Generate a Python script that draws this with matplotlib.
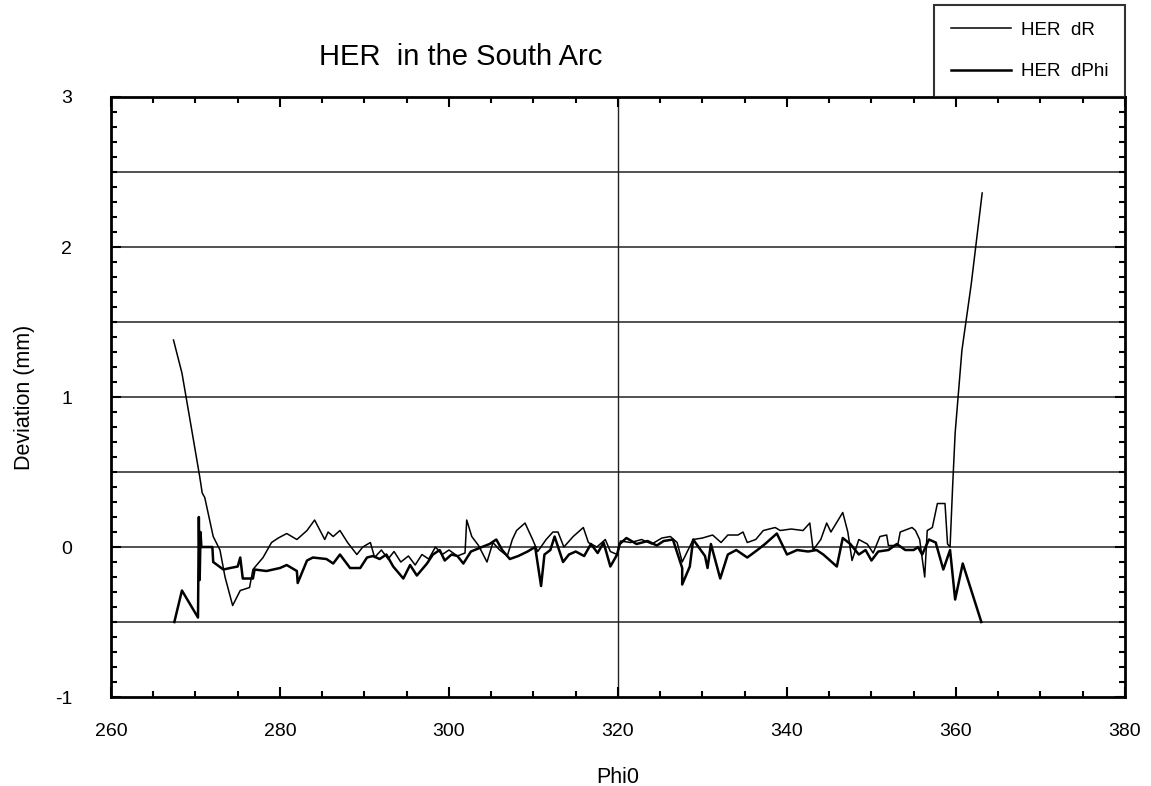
#!/usr/bin/python3

import numpy as np

import matplotlib
matplotlib.use('Agg')
from matplotlib import pyplot as plt
from matplotlib import ticker as mticker

# HER dR trace (Phi0, deviation in mm)
dr_phi = [267.4, 268.4, 269.5, 270.5, 270.8, 271.1, 272.1, 272.9, 273.5, 274.4,
          275.3, 276.4, 276.8, 278.0, 279.0, 279.8, 280.8, 282.0, 283.2, 284.1,
          285.3, 285.7, 286.3, 287.1, 288.0, 289.1, 289.8, 290.7, 291.2, 292.0,
          292.8, 293.5, 294.3, 295.2, 296.0, 296.8, 297.6, 298.4, 299.2, 300.0,
          301.0, 301.9, 302.1, 302.7, 303.5, 304.5, 305.2, 306.0, 306.9, 307.5,
          308.0, 309.0, 309.9, 310.5, 311.5, 312.3, 312.9, 313.6, 314.7, 315.9,
          316.5, 317.5, 318.5, 319.1, 319.9, 320.3, 321.5, 322.8, 324.0, 325.2,
          326.2, 327.0, 327.6, 328.9, 330.0, 331.2, 332.2, 333.0, 334.2, 334.8,
          335.3, 336.3, 337.2, 338.6, 339.2, 340.5, 341.9, 342.7, 343.1, 344.0,
          344.7, 345.2, 346.6, 347.2, 347.7, 348.5, 349.5, 350.2, 351.0, 351.8,
          352.0, 353.1, 353.4, 354.8, 355.2, 355.7, 356.3, 356.6, 357.2, 357.8,
          358.7, 359.0, 359.3, 359.6, 359.9, 360.7, 361.8, 363.1]
dr_dev = [1.38, 1.16, 0.80, 0.47, 0.36, 0.33, 0.07, -0.02, -0.20, -0.39,
          -0.29, -0.27, -0.15, -0.07, 0.03, 0.06, 0.09, 0.05, 0.11, 0.18,
          0.05, 0.10, 0.07, 0.11, 0.03, -0.05, 0.00, 0.03, -0.07, -0.02,
          -0.08, -0.03, -0.10, -0.06, -0.12, -0.05, -0.08, 0.00, -0.05, -0.02,
          -0.06, -0.04, 0.18, 0.07, 0.01, -0.10, 0.03, -0.02, -0.06, 0.05,
          0.11, 0.16, 0.05, -0.03, 0.05, 0.10, 0.10, 0.00, 0.07, 0.13,
          0.03, 0.00, 0.05, -0.03, -0.05, 0.04, 0.03, 0.05, 0.02, 0.06,
          0.07, 0.03, -0.10, 0.05, 0.06, 0.08, 0.03, 0.08, 0.08, 0.10,
          0.03, 0.05, 0.11, 0.13, 0.11, 0.12, 0.11, 0.16, -0.02, 0.05,
          0.16, 0.10, 0.23, 0.10, -0.09, 0.05, 0.02, -0.04, 0.07, 0.08,
          0.01, 0.01, 0.10, 0.13, 0.11, 0.05, -0.20, 0.11, 0.13, 0.29,
          0.29, 0.02, 0.00, 0.40, 0.76, 1.31, 1.75, 2.36]

# HER dPhi trace (Phi0, deviation in mm)
dphi_phi = [267.5, 268.4, 270.3, 270.4, 270.5, 270.6, 270.7, 272.0, 272.1, 273.3,
            274.1, 275.0, 275.3, 275.6, 276.8, 277.0, 278.4, 280.0, 280.8, 282.0,
            282.1, 283.2, 283.9, 285.5, 286.3, 287.1, 288.3, 289.5, 290.3, 291.0,
            291.8, 292.6, 293.4, 294.6, 295.4, 296.2, 297.4, 298.1, 298.9, 299.5,
            300.3, 301.0, 301.7, 302.6, 303.9, 304.8, 305.6, 306.3, 307.2, 308.2,
            309.3, 310.2, 310.9, 311.3, 312.0, 312.5, 313.5, 314.2, 315.0, 316.0,
            316.8, 317.6, 318.3, 319.1, 319.9, 320.2, 321.0, 322.2, 323.5, 324.6,
            325.4, 326.5, 327.6, 327.6, 328.5, 328.9, 330.3, 330.6, 331.0, 332.1,
            333.0, 334.0, 335.3, 336.5, 337.4, 338.8, 340.0, 341.2, 342.5, 343.5,
            344.3, 345.9, 346.6, 347.5, 348.5, 349.3, 350.0, 350.8, 352.0, 353.0,
            354.0, 355.0, 355.5, 356.0, 356.8, 357.6, 358.5, 359.3, 359.9, 360.8,
            363.0]
dphi_dev = [-0.50, -0.29, -0.47, 0.20, -0.22, 0.10, 0.00, 0.00, -0.10, -0.15,
            -0.14, -0.13, -0.07, -0.21, -0.21, -0.15, -0.16, -0.14, -0.12, -0.16,
            -0.24, -0.09, -0.07, -0.08, -0.11, -0.05, -0.14, -0.14, -0.07, -0.06,
            -0.08, -0.05, -0.13, -0.21, -0.12, -0.19, -0.11, -0.05, -0.02, -0.09,
            -0.05, -0.06, -0.11, -0.03, 0.00, 0.02, 0.05, -0.02, -0.08, -0.06,
            -0.03, 0.00, -0.26, -0.05, -0.02, 0.07, -0.10, -0.05, -0.03, -0.06,
            0.02, -0.04, 0.03, -0.13, -0.05, 0.02, 0.06, 0.02, 0.04, 0.01,
            0.04, 0.05, -0.14, -0.25, -0.13, 0.05, -0.06, -0.14, 0.02, -0.21,
            -0.05, -0.02, -0.07, -0.02, 0.02, 0.09, -0.05, -0.02, -0.03, -0.02,
            -0.05, -0.13, 0.06, 0.02, -0.05, -0.02, -0.09, -0.03, -0.02, 0.02,
            -0.02, -0.02, 0.00, -0.05, 0.05, 0.03, -0.15, -0.02, -0.35, -0.11,
            -0.50]

grid_y = [-0.5, 0, 0.5, 1, 1.5, 2, 2.5]
grid_x = [320]

def main():
    plt.rcParams['font.family'] = ['Liberation Sans', 'DejaVu Sans']
    plt.rcParams['axes.unicode_minus'] = False

    fig = plt.figure(figsize=(11.51, 7.86), dpi=100)
    ax = fig.add_axes([0.0964, 0.1132, 0.881, 0.7634])

    for g in grid_y:
        ax.axhline(g, color='#222222', lw=1.1, zorder=1)
    for g in grid_x:
        ax.axvline(g, color='#222222', lw=1.0, zorder=1)

    ax.plot(dr_phi, dr_dev, color='black', lw=1.1, label='HER  dR', zorder=3)
    ax.plot(dphi_phi, dphi_dev, color='black', lw=1.8, label='HER  dPhi', zorder=2)

    ax.set_xlim(260, 380)
    ax.set_ylim(-1, 3)
    ax.xaxis.set_major_locator(mticker.MultipleLocator(20))
    ax.xaxis.set_minor_locator(mticker.MultipleLocator(5))
    ax.yaxis.set_major_locator(mticker.MultipleLocator(1))
    ax.yaxis.set_minor_locator(mticker.MultipleLocator(0.1))
    ax.tick_params(which='both', direction='in', top=True, right=True,
                   width=1.5, colors='black')
    ax.tick_params(which='major', length=7, labelsize=14)
    ax.tick_params(which='minor', length=4)
    ax.tick_params(axis='x', which='major', pad=19)
    ax.tick_params(axis='y', which='major', pad=28)
    for s in ax.spines.values():
        s.set_linewidth(2.0)

    ax.set_xlabel('Phi0', fontsize=15.5, labelpad=19)
    ax.set_ylabel('Deviation (mm)', fontsize=15.5, labelpad=14)
    fig.text(0.40, 0.927, 'HER  in the South Arc', fontsize=21,
             ha='center', va='center')

    leg = ax.legend(loc='lower right', bbox_to_anchor=(1.0, 1.0),
                    borderaxespad=0.0, frameon=True, fancybox=False,
                    edgecolor='black', fontsize=13.5, handlelength=3.2,
                    labelspacing=1.3, borderpad=0.9, handletextpad=0.5)
    leg.get_frame().set_linewidth(1.5)

    fig.savefig('out.png', dpi=100)
    plt.close()

if __name__ == '__main__': main()
